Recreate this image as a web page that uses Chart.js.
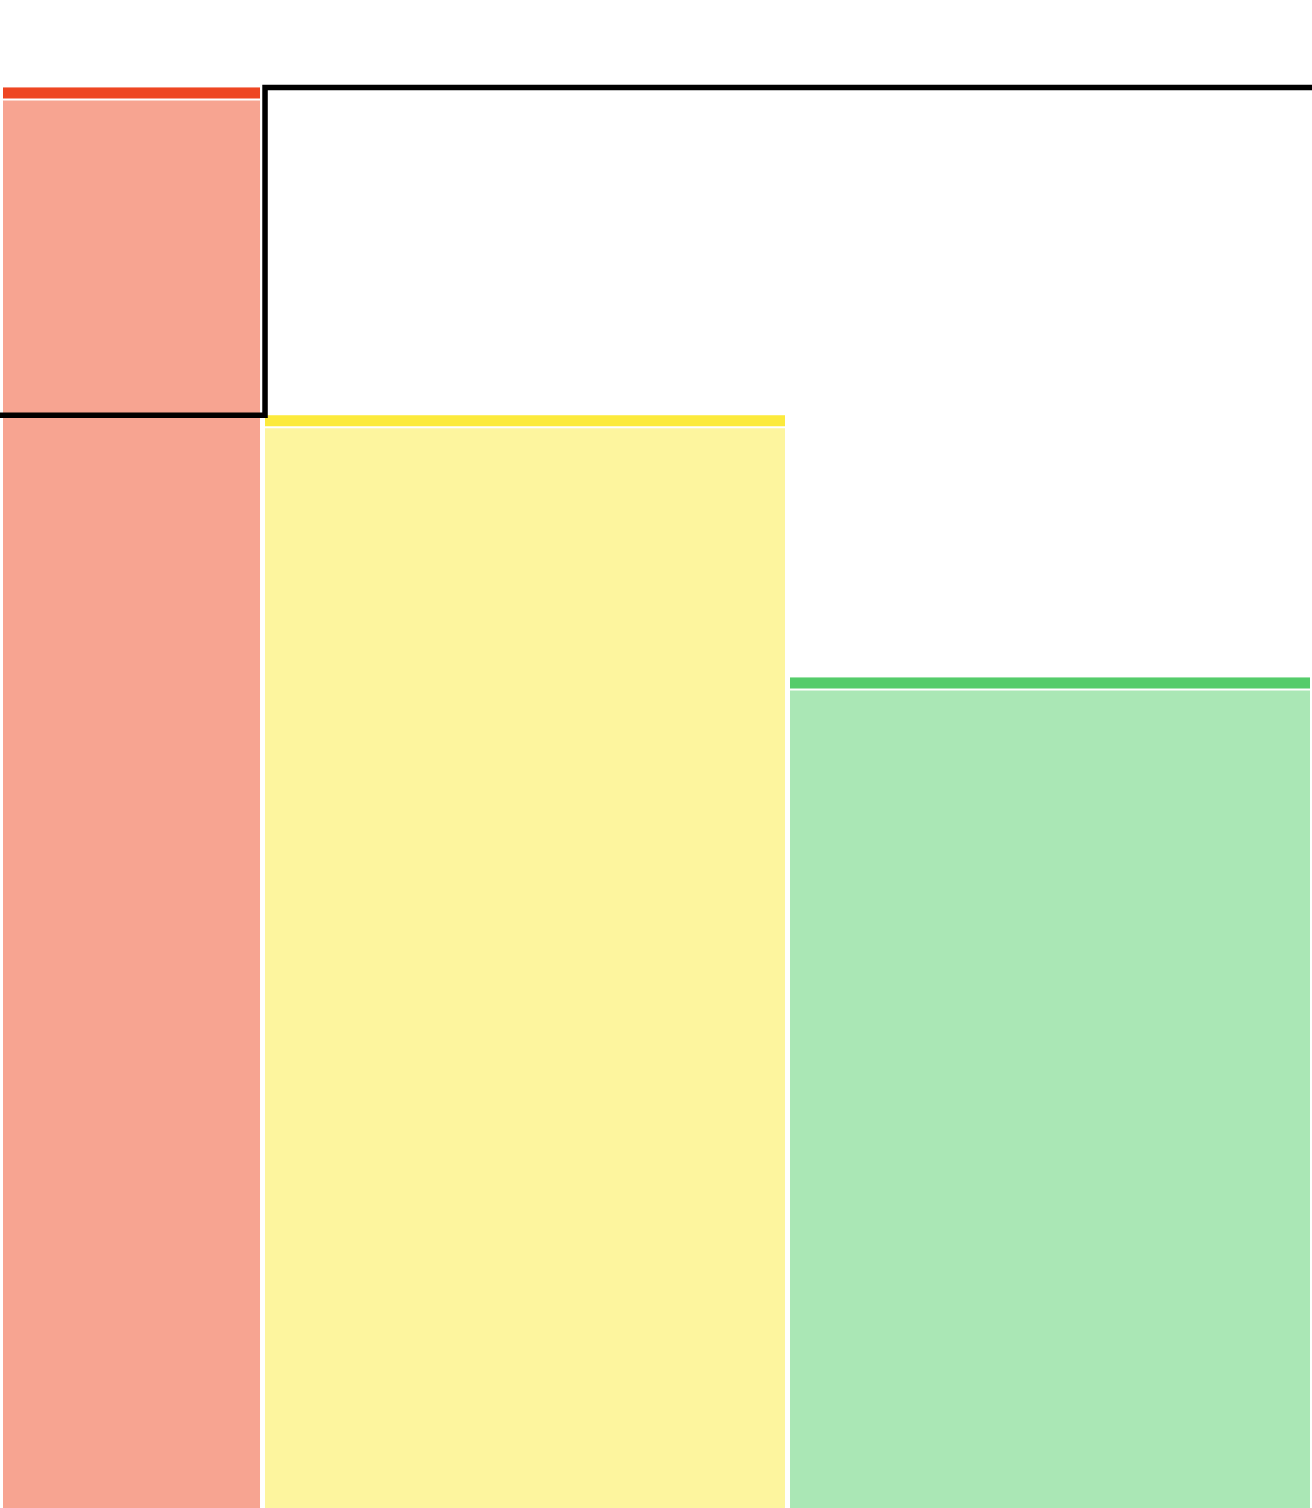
<!DOCTYPE html>
<html>
<head>
<meta charset="utf-8">
<script src="https://cdn.jsdelivr.net/npm/chart.js@4.4.1/dist/chart.umd.min.js"></script>
<style>
html,body{margin:0;padding:0;background:#fff;overflow:hidden;}
canvas{display:block;}
</style>
</head>
<body>
<canvas id="c" width="1312" height="1508"></canvas>
<script>
// ---- data ----
const barStarts = [0, 20, 60];
const barEnds = [20, 60, 100];
const barValues = [65, 50, 38];
const stepX = [0, 20.2, 20.2, 100];
const stepY = [50, 50, 65, 65];
const xTicks = [0, 20, 60, 100];
const yMax = 69;

// ---- styles ----
const fillColors = ['#F7A491', '#FDF59E', '#AAE7B5'];
const stripeColors = ['#EE4622', '#FCEA3C', '#55CC6B'];
const STRIPE = 11;

const datasets = [];
barValues.forEach((v, i) => {
  const pts = [{x: barStarts[i], y: v}, {x: barEnds[i], y: v}];
  datasets.push({data: pts, fill: 'origin', backgroundColor: fillColors[i], borderWidth: 0, pointRadius: 0, order: 5, clip: false});
  datasets.push({data: pts, fill: false, borderColor: '#ffffff', borderWidth: STRIPE + 2, borderCapStyle: 'butt', pointRadius: 0, order: 4, shift: (STRIPE + 2) / 2, clip: false});
  datasets.push({data: pts, fill: false, borderColor: stripeColors[i], borderWidth: STRIPE, borderCapStyle: 'butt', pointRadius: 0, order: 3, shift: STRIPE / 2, clip: false});
});
datasets.push({data: stepX.map((x, i) => ({x, y: stepY[i]})), fill: false, borderColor: '#000000', borderWidth: 5.5, borderJoinStyle: 'miter', borderCapStyle: 'butt', pointRadius: 0, order: 0, topLayer: true, clip: false});

const layerPlugin = {
  id: 'layers',
  beforeDatasetDraw(chart, args) {
    const ds = chart.data.datasets[args.index];
    if (ds.topLayer && !chart.$drawingTop) return false;
    if (ds.shift) { chart.ctx.save(); chart.ctx.translate(0, ds.shift); }
  },
  afterDatasetDraw(chart, args) {
    const ds = chart.data.datasets[args.index];
    if (ds.shift) chart.ctx.restore();
  },
  afterDraw(chart) {
    chart.data.datasets.forEach((ds, i) => {
      if (ds.topLayer) {
        chart.$drawingTop = true;
        const meta = chart.getDatasetMeta(i);
        chart.ctx.save();
        meta.controller.draw();
        chart.ctx.restore();
        chart.$drawingTop = false;
      }
    });
  }
};

new Chart(document.getElementById('c'), {
  type: 'line',
  data: {datasets},
  options: {
    responsive: false,
    animation: false,
    devicePixelRatio: 1,
    layout: {padding: 0},
    plugins: {legend: {display: false}, tooltip: {enabled: false}},
    elements: {line: {tension: 0}},
    scales: {
      x: {
        type: 'linear', min: 0, max: 100, display: true, z: 1,
        afterBuildTicks: (s) => { s.ticks = xTicks.map(v => ({value: v})); },
        ticks: {display: false, padding: 0},
        grid: {color: '#ffffff', lineWidth: 5, drawTicks: false, z: 1},
        border: {display: false}
      },
      y: {type: 'linear', min: 0, max: yMax, display: false}
    }
  },
  plugins: [layerPlugin]
});
</script>
</body>
</html>
